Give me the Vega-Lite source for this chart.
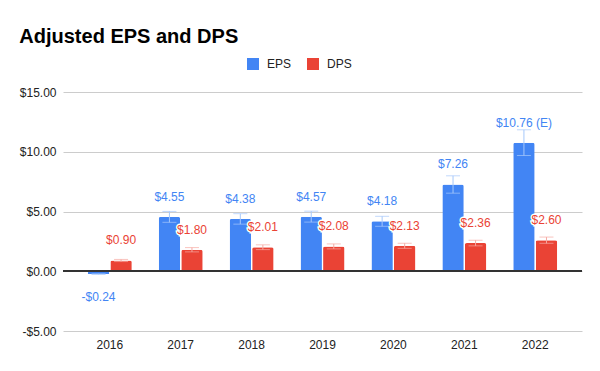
{
  "$schema": "https://vega.github.io/schema/vega-lite/v6.json",
  "width": 519,
  "height": 239,
  "autosize": {"type": "none"},
  "padding": {"left": 63, "top": 92, "right": 18, "bottom": 40},
  "background": "white",
  "title": {
    "text": "Adjusted EPS and DPS",
    "anchor": "start",
    "frame": "bounds",
    "font": "Liberation Sans",
    "fontSize": 20,
    "fontWeight": "bold",
    "color": "#000000",
    "baseline": "alphabetic",
    "offset": -5
  },
  "config": {
    "view": {"stroke": null},
    "font": "Liberation Sans"
  },
  "data": {
    "values": [
      {"year": "2016", "series": "EPS", "value": -0.24, "lo": -0.264, "hi": -0.216, "label": "-$0.24"},
      {"year": "2016", "series": "DPS", "value": 0.90, "lo": 0.81, "hi": 0.99, "label": "$0.90"},
      {"year": "2017", "series": "EPS", "value": 4.55, "lo": 4.095, "hi": 5.005, "label": "$4.55"},
      {"year": "2017", "series": "DPS", "value": 1.80, "lo": 1.62, "hi": 1.98, "label": "$1.80"},
      {"year": "2018", "series": "EPS", "value": 4.38, "lo": 3.942, "hi": 4.818, "label": "$4.38"},
      {"year": "2018", "series": "DPS", "value": 2.01, "lo": 1.809, "hi": 2.211, "label": "$2.01"},
      {"year": "2019", "series": "EPS", "value": 4.57, "lo": 4.113, "hi": 5.027, "label": "$4.57"},
      {"year": "2019", "series": "DPS", "value": 2.08, "lo": 1.872, "hi": 2.288, "label": "$2.08"},
      {"year": "2020", "series": "EPS", "value": 4.18, "lo": 3.762, "hi": 4.598, "label": "$4.18"},
      {"year": "2020", "series": "DPS", "value": 2.13, "lo": 1.917, "hi": 2.343, "label": "$2.13"},
      {"year": "2021", "series": "EPS", "value": 7.26, "lo": 6.534, "hi": 7.986, "label": "$7.26"},
      {"year": "2021", "series": "DPS", "value": 2.36, "lo": 2.124, "hi": 2.596, "label": "$2.36"},
      {"year": "2022", "series": "EPS", "value": 10.76, "lo": 9.684, "hi": 11.836, "label": "$10.76 (E)"},
      {"year": "2022", "series": "DPS", "value": 2.60, "lo": 2.34, "hi": 2.86, "label": "$2.60"}
    ]
  },
  "encoding": {
    "x": {
      "field": "year",
      "type": "nominal",
      "scale": {"paddingInner": 0.38, "paddingOuter": 0.35},
      "axis": {
        "title": null,
        "labelAngle": 0,
        "ticks": false,
        "domain": false,
        "labelPadding": 8,
        "labelFontSize": 12,
        "labelColor": "#222222",
        "labelFont": "Liberation Sans"
      }
    },
    "xOffset": {
      "field": "series",
      "type": "nominal",
      "sort": ["EPS", "DPS"],
      "scale": {"domain": ["EPS", "DPS"], "paddingInner": 0.05}
    }
  },
  "layer": [
    {
      "mark": {"type": "bar", "cornerRadiusEnd": 2},
      "encoding": {
        "y": {
          "field": "value",
          "type": "quantitative",
          "scale": {"domain": [-5, 15], "padding": 0, "nice": false},
          "axis": {
            "title": null,
            "values": [-5, 0, 5, 10, 15],
            "domain": false,
            "ticks": false,
            "labelPadding": 7,
            "labelFontSize": 12,
            "labelColor": "#222222",
            "labelFont": "Liberation Sans",
            "gridColor": "#cccccc",
            "labelExpr": "datum.value < 0 ? '-$' + format(-datum.value, '.2f') : '$' + format(datum.value, '.2f')"
          }
        },
        "color": {
          "field": "series",
          "type": "nominal",
          "scale": {"domain": ["EPS", "DPS"], "range": ["#4285F4", "#EA4335"]},
          "legend": {
            "title": null,
            "orient": "none",
            "direction": "horizontal",
            "legendX": 184,
            "legendY": -34,
            "symbolType": "square",
            "symbolSize": 144,
            "symbolStrokeWidth": 0,
            "symbolOpacity": 1,
            "labelFontSize": 12,
            "labelColor": "#222222",
            "labelFont": "Liberation Sans",
            "labelOffset": 8,
            "columnPadding": 15
          }
        }
      }
    },
    {
      "mark": {"type": "rule", "color": "#333333", "strokeWidth": 1.5},
      "encoding": {"y": {"datum": 0, "type": "quantitative"}, "x": null, "xOffset": null}
    },
    {
      "mark": {"type": "rule", "strokeWidth": 1},
      "encoding": {
        "y": {"field": "lo", "type": "quantitative"},
        "y2": {"field": "hi"},
        "color": {
          "field": "series",
          "type": "nominal",
          "scale": {"domain": ["EPS", "DPS"], "range": ["#a6c8fb", "#f6aaa3"]},
          "legend": null
        }
      }
    },
    {
      "mark": {"type": "tick", "size": 14, "thickness": 1},
      "encoding": {
        "y": {"field": "lo", "type": "quantitative"},
        "color": {
          "field": "series",
          "type": "nominal",
          "scale": {"domain": ["EPS", "DPS"], "range": ["#a6c8fb", "#f6aaa3"]},
          "legend": null
        }
      }
    },
    {
      "mark": {"type": "tick", "size": 14, "thickness": 1},
      "encoding": {
        "y": {"field": "hi", "type": "quantitative"},
        "color": {
          "field": "series",
          "type": "nominal",
          "scale": {"domain": ["EPS", "DPS"], "range": ["#a6c8fb", "#f6aaa3"]},
          "legend": null
        }
      }
    },
    {
      "transform": [{"filter": "datum.value >= 0"}],
      "mark": {"type": "text", "dy": -20, "fontSize": 12, "font": "Liberation Sans", "stroke": "white", "strokeWidth": 3, "fill": "white", "baseline": "middle"},
      "encoding": {
        "y": {"field": "value", "type": "quantitative"},
        "text": {"field": "label"}
      }
    },
    {
      "transform": [{"filter": "datum.value >= 0"}],
      "mark": {"type": "text", "dy": -20, "fontSize": 12, "font": "Liberation Sans", "baseline": "middle"},
      "encoding": {
        "y": {"field": "value", "type": "quantitative"},
        "text": {"field": "label"},
        "color": {
          "field": "series",
          "type": "nominal",
          "scale": {"domain": ["EPS", "DPS"], "range": ["#4285F4", "#EA4335"]},
          "legend": null
        }
      }
    },
    {
      "transform": [{"filter": "datum.value < 0"}],
      "mark": {"type": "text", "dy": 23, "fontSize": 12, "font": "Liberation Sans", "baseline": "middle"},
      "encoding": {
        "y": {"field": "value", "type": "quantitative"},
        "text": {"field": "label"},
        "color": {
          "field": "series",
          "type": "nominal",
          "scale": {"domain": ["EPS", "DPS"], "range": ["#4285F4", "#EA4335"]},
          "legend": null
        }
      }
    }
  ],
  "resolve": {"scale": {"color": "independent"}}
}
